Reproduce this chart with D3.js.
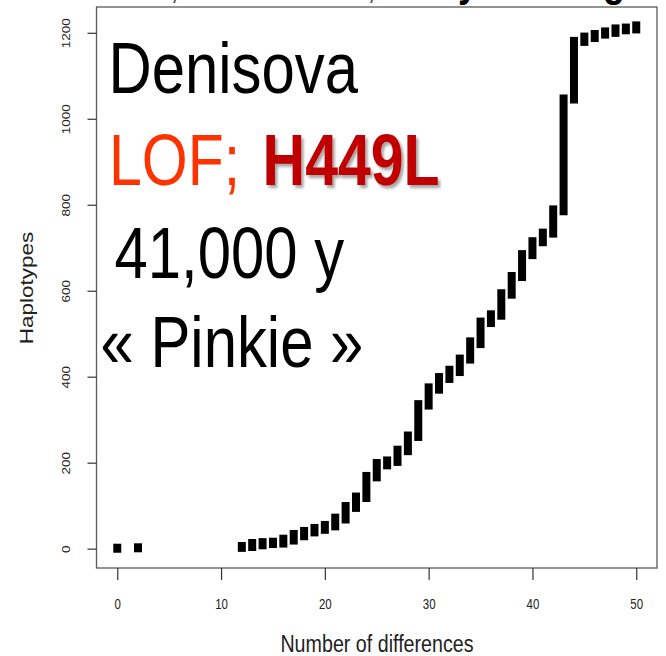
<!DOCTYPE html>
<html>
<head>
<meta charset="utf-8">
<script src="https://cdn.jsdelivr.net/npm/d3@7"></script>
<style>
  html, body { margin: 0; padding: 0; background: #fff; }
  svg { display: block; font-family: "Liberation Sans", Arial, sans-serif; }
</style>
</head>
<body>
<div id="chart"></div>
<script>
// number of differences for each group of haplotypes
const diffs = [0, 2, 12, 13, 14, 15, 16, 17, 18, 19, 20, 21, 22, 23, 24, 25, 26, 27, 28, 29, 30,
  31, 32, 33, 34, 35, 36, 37, 38, 39, 40, 41, 42, 43, 44, 45, 46, 47, 48, 49, 50];
// first and last haplotype index (sorted) having that number of differences
const lowIdx = [1, 2, 3, 5, 9, 12, 13, 20, 30, 39, 45, 53, 69, 96, 119, 167, 195, 203, 228, 261, 334,
  371, 396, 412, 441, 477, 526, 543, 592, 633, 684, 714, 734, 786, 1046, 1180, 1189, 1197, 1201, 1207, 1209];
const highIdx = [1, 2, 5, 12, 14, 15, 22, 33, 40, 47, 54, 71, 98, 120, 168, 198, 204, 229, 262, 335, 374,
  398, 415, 441, 481, 527, 544, 593, 633, 684, 714, 734, 788, 1046, 1180, 1190, 1196, 1202, 1209, 1211, 1216];
const xTicks = [0, 10, 20, 30, 40, 50];
const yTicks = [0, 200, 400, 600, 800, 1000, 1200];

const width = 666,
  height = 656,
  squeeze = 0.82; // the original picture is narrower than it is tall

const svg = d3
  .select('#chart')
  .append('svg')
  .attr('width', width)
  .attr('height', height);

const defs = svg.append('defs');
defs.append('filter')
  .attr('id', 'shadow')
  .attr('x', '-10%').attr('y', '-10%')
  .attr('width', '130%').attr('height', '140%')
  .append('feDropShadow')
  .attr('dx', 3)
  .attr('dy', 3)
  .attr('stdDeviation', 1.6)
  .attr('flood-color', '#000')
  .attr('flood-opacity', 0.35);

const x = d3.scaleLinear().domain([-2, 52]).range([96.5, 657]);
const y = d3.scaleLinear().domain([-45, 1260]).range([568, 7]);

const data = diffs.map((d, i) => ({ diff: d, lo: lowIdx[i], hi: highIdx[i] }));

/* ------- BARS ------- */
const half = 4.5;
svg.append('g')
  .selectAll('rect')
  .data(data)
  .enter()
  .append('rect')
  .attr('x', d => x(d.diff) - 4)
  .attr('width', 8)
  .attr('y', d => y(d.hi) - half)
  .attr('height', d => y(d.lo) - y(d.hi) + 2 * half)
  .attr('fill', '#000');

/* ------- BOX ------- */
svg.append('rect')
  .attr('x', x.range()[0])
  .attr('y', y.range()[1])
  .attr('width', x.range()[1] - x.range()[0])
  .attr('height', y.range()[0] - y.range()[1])
  .attr('fill', 'none')
  .attr('stroke', '#5a5a5a')
  .attr('stroke-width', 1.3);

/* ------- AXES ------- */
const xAxis = svg.append('g')
  .attr('transform', `translate(0,${y.range()[0]})`)
  .call(d3.axisBottom(x).tickValues(xTicks).tickSize(12).tickFormat(d3.format('d')));
xAxis.select('.domain').remove();
xAxis.selectAll('line').attr('stroke', '#333').attr('stroke-width', 1.2);
xAxis.selectAll('text')
  .attr('y', 0)
  .attr('dy', 0)
  .attr('transform', `translate(0,41) scale(${squeeze},1)`)
  .attr('font-size', 14)
  .attr('fill', '#222');

const yAxis = svg.append('g')
  .attr('transform', `translate(${x.range()[0]},0)`)
  .call(d3.axisLeft(y).tickValues(yTicks).tickSize(9).tickFormat(d3.format('d')));
yAxis.select('.domain').remove();
yAxis.selectAll('line').attr('stroke', '#333').attr('stroke-width', 1.2);
yAxis.selectAll('text')
  .attr('x', 0)
  .attr('dy', '0.35em')
  .attr('text-anchor', 'middle')
  .attr('transform', `translate(-30,0) scale(${squeeze},1) rotate(-90)`)
  .attr('font-size', 13.5)
  .attr('fill', '#222');

svg.append('text')
  .attr('transform', `translate(377,652) scale(${squeeze},1)`)
  .attr('text-anchor', 'middle')
  .attr('font-size', 24)
  .attr('fill', '#222')
  .text('Number of differences');

svg.append('text')
  .attr('transform', `translate(27,288) scale(${squeeze},1) rotate(-90)`)
  .attr('text-anchor', 'middle')
  .attr('dy', '0.35em')
  .attr('font-size', 22.5)
  .attr('fill', '#222')
  .text('Haplotypes');

/* ------- ANNOTATIONS ------- */
const note = (tx, ty, str, size, color, weight) =>
  svg.append('text')
    .attr('transform', `translate(${tx},${ty}) scale(${squeeze},1)`)
    .attr('font-size', size)
    .attr('font-weight', weight || 'normal')
    .attr('fill', color)
    .text(str);

note(108.5, 92.7, 'Denisova', 73, '#000');
note(109, 185, 'LOF;', 72, '#ff3300');
note(262.5, 185, 'H449L', 72, '#c00000', 'bold').attr('filter', 'url(#shadow)');
note(114.5, 278.3, '41,000 y', 73, '#000');
note(100.5, 366.7, '\u00ab Pinkie \u00bb', 73, '#000');

// bottom of a slide title cut off at the top edge
note(170, -2, ',', 40, '#555');
note(367, -2, ',', 40, '#555');
note(458, -4.5, 'y', 44, '#000', 'bold');
note(603, -4.5, 'g', 44, '#000', 'bold');
</script>
</body>
</html>
